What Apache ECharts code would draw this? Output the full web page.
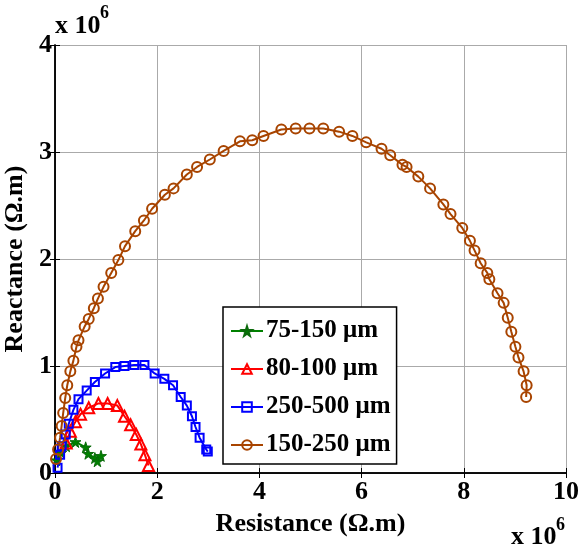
<!DOCTYPE html>
<html>
<head>
<meta charset="utf-8">
<script src="https://cdn.jsdelivr.net/npm/echarts@6/dist/echarts.min.js"></script>
<style>
  html, body { margin: 0; padding: 0; background: #fff; }
  #chart { width: 580px; height: 556px; }
</style>
</head>
<body>
<div id="chart"></div>
<script>
// values in units of 1e6 Ohm.m
var names = ["75-150 μm", "80-100 μm", "250-500 μm", "150-250 μm"];

var greenR = [0.03, 0.12, 0.22, 0.40, 0.60, 0.65, 0.78, 0.83, 0.90];
var greenX = [0.12, 0.19, 0.25, 0.29, 0.24, 0.18, 0.14, 0.11, 0.16];

var redR = [0.22, 0.30, 0.40, 0.50, 0.66, 0.85, 1.03, 1.22, 1.36, 1.48, 1.59, 1.68, 1.76, 1.83];
var redX = [0.28, 0.39, 0.48, 0.55, 0.61, 0.65, 0.65, 0.63, 0.53, 0.45, 0.36, 0.27, 0.17, 0.07];

var blueR = [0.05, 0.10, 0.13, 0.21, 0.27, 0.36, 0.46, 0.62, 0.78, 0.98, 1.18, 1.36, 1.55, 1.75,
             1.95, 2.14, 2.31, 2.46, 2.58, 2.68, 2.75, 2.83, 2.96, 2.99];
var blueX = [0.05, 0.17, 0.25, 0.36, 0.46, 0.59, 0.69, 0.77, 0.85, 0.93, 0.99, 1.00, 1.01, 1.01,
             0.93, 0.88, 0.82, 0.71, 0.63, 0.53, 0.43, 0.33, 0.22, 0.20];

var brownR = [0.02, 0.06, 0.10, 0.13, 0.16, 0.20, 0.24, 0.30, 0.36, 0.42, 0.46, 0.58, 0.66, 0.76,
              0.84, 0.95, 1.10, 1.24, 1.37, 1.57, 1.74, 1.90, 2.15, 2.32, 2.58, 2.78, 3.03, 3.30,
              3.62, 3.86, 4.08, 4.43, 4.71, 4.98, 5.25, 5.56, 5.82, 6.09, 6.39, 6.56, 6.80, 6.88,
              7.11, 7.34, 7.60, 7.74, 7.97, 8.12, 8.21, 8.33, 8.46, 8.50, 8.66, 8.78, 8.86, 8.93,
              9.01, 9.07, 9.17, 9.23, 9.22];
var brownX = [0.13, 0.22, 0.33, 0.44, 0.56, 0.70, 0.82, 0.95, 1.05, 1.18, 1.24, 1.37, 1.44, 1.54,
              1.63, 1.74, 1.87, 1.99, 2.12, 2.26, 2.36, 2.47, 2.60, 2.66, 2.79, 2.86, 2.93, 3.01,
              3.10, 3.11, 3.15, 3.21, 3.22, 3.22, 3.22, 3.19, 3.15, 3.09, 3.03, 2.97, 2.88, 2.86,
              2.77, 2.66, 2.51, 2.42, 2.29, 2.17, 2.08, 1.96, 1.87, 1.81, 1.68, 1.59, 1.45, 1.32,
              1.18, 1.08, 0.95, 0.82, 0.71];

var xTicks = [0, 2, 4, 6, 8, 10];
var yTicks = [0, 1, 2, 3, 4];

function pairs(r, x) {
  var out = [];
  for (var i = 0; i < r.length; i++) out.push([r[i], x[i]]);
  return out;
}

var serif = "Liberation Serif";
var star = "path://M50,0 L61,35 L98,35 L68,57 L79,91 L50,70 L21,91 L32,57 L2,35 L39,35 Z";

var myChart = echarts.init(document.getElementById("chart"));

var option = {
  backgroundColor: "#fff",
  animation: false,
  grid: { left: 55, right: 14, top: 45, bottom: 83, outerBoundsMode: "none", containLabel: false },
  legend: {
    data: names,
    orient: "vertical",
    left: 223,
    top: 307,
    padding: [11, 6, 6, 7],
    itemGap: 12,
    itemWidth: 32,
    itemHeight: 12,
    backgroundColor: "#fff",
    borderColor: "#000",
    borderWidth: 1.5,
    textStyle: { fontFamily: serif, fontWeight: "bold", fontSize: 25, color: "#000", lineHeight: 26, padding: [0, 0, 0, -2] }
  },
  xAxis: [
    {
      type: "value", min: 0, max: 10, interval: 2, position: "bottom",
      name: "Resistance (Ω.m)", nameLocation: "middle", nameGap: 38,
      nameTextStyle: { fontFamily: serif, fontWeight: "bold", fontSize: 26, color: "#000" },
      axisLine: { lineStyle: { color: "#000", width: 1.5 } },
      axisTick: { inside: true, length: 5, lineStyle: { color: "#000" } },
      axisLabel: {
        margin: 6, fontFamily: serif, fontWeight: "bold", fontSize: 26, color: "#000",
        formatter: function (v) { return xTicks.indexOf(v) >= 0 ? String(v) : ""; }
      },
      splitLine: { show: true, lineStyle: { color: "#aaa", width: 1 } }
    },
    {
      type: "value", min: 0, max: 10, interval: 2, position: "top",
      axisLine: { lineStyle: { color: "#000", width: 1.5 } },
      axisTick: { inside: true, length: 5, lineStyle: { color: "#000" } },
      axisLabel: { show: false },
      splitLine: { show: false }
    }
  ],
  yAxis: [
    {
      type: "value", min: 0, max: 4, interval: 1, position: "left",
      name: "Reactance (Ω.m)", nameLocation: "middle", nameGap: 24,
      nameTextStyle: { fontFamily: serif, fontWeight: "bold", fontSize: 26, color: "#000" },
      axisLine: { show: true, lineStyle: { color: "#000", width: 1.5 } },
      axisTick: { show: true, inside: true, length: 5, lineStyle: { color: "#000" } },
      axisLabel: {
        margin: 3, fontFamily: serif, fontWeight: "bold", fontSize: 26, color: "#000",
        formatter: function (v) { return yTicks.indexOf(v) >= 0 ? String(v) : ""; }
      },
      splitLine: { show: true, lineStyle: { color: "#aaa", width: 1 } }
    },
    {
      type: "value", min: 0, max: 4, interval: 1, position: "right",
      axisLine: { show: true, lineStyle: { color: "#000", width: 1.5 } },
      axisTick: { show: true, inside: true, length: 5, lineStyle: { color: "#000" } },
      axisLabel: { show: false },
      splitLine: { show: false }
    }
  ],
  graphic: [
    { type: "text", left: 55, top: 13, style: { text: "x 10", fontFamily: serif, fontWeight: "bold", fontSize: 26, fill: "#000" } },
    { type: "text", left: 100, top: 4, style: { text: "6", fontFamily: serif, fontWeight: "bold", fontSize: 18, fill: "#000" } },
    { type: "text", left: 511, top: 524, style: { text: "x 10", fontFamily: serif, fontWeight: "bold", fontSize: 26, fill: "#000" } },
    { type: "text", left: 556, top: 516, style: { text: "6", fontFamily: serif, fontWeight: "bold", fontSize: 18, fill: "#000" } }
  ],
  series: [
    {
      name: names[0], type: "line", data: pairs(greenR, greenX),
      symbol: star, symbolSize: 11,
      lineStyle: { color: "#008000", width: 2 },
      itemStyle: { color: "#008000", borderColor: "#0a6a0a", borderWidth: 1 }
    },
    {
      name: names[1], type: "line", data: pairs(redR, redX),
      symbol: "triangle", symbolSize: 11,
      lineStyle: { color: "#ff0000", width: 2 },
      itemStyle: { color: "rgba(255,255,255,0)", borderColor: "#ff0000", borderWidth: 2 }
    },
    {
      name: names[2], type: "line", data: pairs(blueR, blueX),
      symbol: "rect", symbolSize: 8,
      lineStyle: { color: "#0000ff", width: 2 },
      itemStyle: { color: "rgba(255,255,255,0)", borderColor: "#0000ff", borderWidth: 2 }
    },
    {
      name: names[3], type: "line", data: pairs(brownR, brownX),
      symbol: "circle", symbolSize: 10,
      lineStyle: { color: "#a84400", width: 2 },
      itemStyle: { color: "rgba(255,255,255,0)", borderColor: "#a84400", borderWidth: 2 }
    }
  ]
};

myChart.setOption(option);
</script>
</body>
</html>
